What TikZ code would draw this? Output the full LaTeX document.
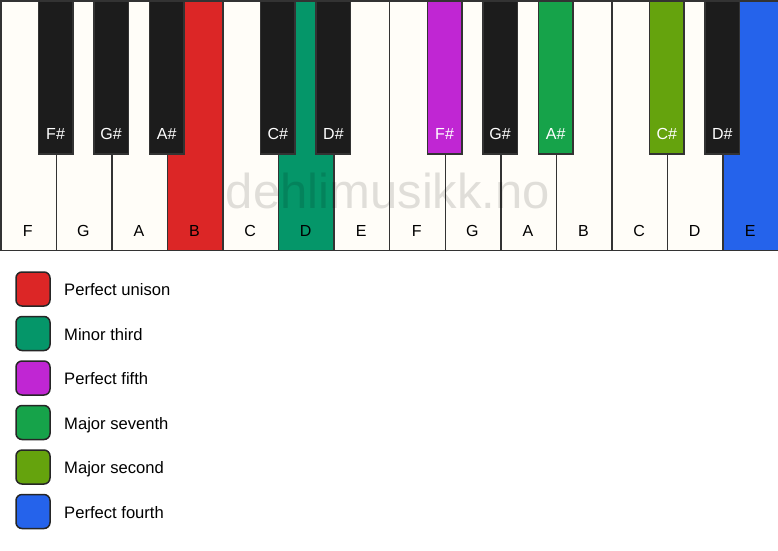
\documentclass[tikz,border=0pt]{standalone}
\usepackage{fontspec}
\setmainfont{Liberation Sans}
\definecolor{keywhite}{HTML}{FFFDF8}
\definecolor{keyblack}{HTML}{1C1C1C}
\definecolor{keyline}{HTML}{333333}
\definecolor{cred}{HTML}{DC2626}
\definecolor{cteal}{HTML}{059669}
\definecolor{cpurple}{HTML}{C026D3}
\definecolor{cgreen}{HTML}{16A34A}
\definecolor{clime}{HTML}{65A30D}
\definecolor{cblue}{HTML}{2563EB}
\begin{document}
\begin{tikzpicture}[x=1pt,y=-1pt,
  whitekey/.style={draw=keyline, line width=1.5pt, fill=keywhite, rectangle, inner sep=0pt,
    minimum width=55.57pt, minimum height=249.5pt, anchor=north west},
  blackkey/.style={draw=keyline, line width=1.5pt, fill=keyblack, rectangle, inner sep=0pt,
    minimum width=34.5pt, minimum height=153pt, anchor=north},
  wlabel/.style={font=\fontsize{16}{16}\selectfont, text=black, anchor=base, inner sep=0pt},
  blabel/.style={font=\fontsize{16}{16}\selectfont, text=white, anchor=base, inner sep=0pt},
  swatch/.style={draw=black!85, line width=1.5pt, rounded corners=6pt, rectangle, inner sep=0pt,
    minimum size=34pt},
  legtext/.style={font=\fontsize{16.6}{16.6}\selectfont, anchor=base west, inner sep=0pt}
]
\useasboundingbox (0,0) rectangle (778,550);
\fill[white] (0,0) rectangle (778,550);
% white keys
\foreach \i/\n/\c in {0/F/keywhite,1/G/keywhite,2/A/keywhite,3/B/cred,4/C/keywhite,5/D/cteal,6/E/keywhite,
  7/F/keywhite,8/G/keywhite,9/A/keywhite,10/B/keywhite,11/C/keywhite,12/D/keywhite,13/E/cblue}{
  \node[whitekey, fill=\c] (w\i) at (\i*55.57,0) {};
  \node[wlabel] (wl\i) at (\i*55.57+27.785,236) {\n};
}
% watermark
\node[font=\fontsize{49}{49}\selectfont, text=black, text opacity=0.12, inner sep=0pt, anchor=base]
  (wm) at (388,208) {dehlimusikk.no};
% black keys
\foreach \b/\n/\c in {1/F\#/keyblack,2/G\#/keyblack,3/A\#/keyblack,5/C\#/keyblack,6/D\#/keyblack,
  8/F\#/cpurple,9/G\#/keyblack,10/A\#/cgreen,12/C\#/clime,13/D\#/keyblack}{
  \node[blackkey, fill=\c] (b\b) at (\b*55.57,0) {};
  \node[blabel] (bl\b) at (\b*55.57,139) {\n};
}
% legend
\foreach \k/\c/\t in {0/cred/Perfect unison,1/cteal/Minor third,2/cpurple/Perfect fifth,
  3/cgreen/Major seventh,4/clime/Major second,5/cblue/Perfect fourth}{
  \node[swatch, fill=\c] (s\k) at (33,289+\k*44.5) {};
  \node[legtext] (t\k) at (64,295.7+\k*44.5) {\t};
}
\end{tikzpicture}
\end{document}
